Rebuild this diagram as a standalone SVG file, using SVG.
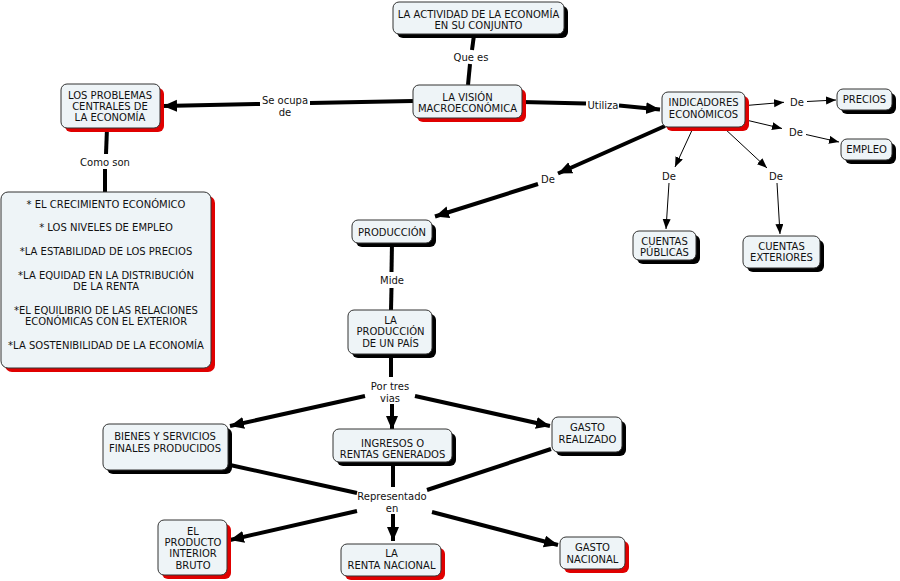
<svg xmlns="http://www.w3.org/2000/svg" width="900" height="581" viewBox="0 0 900 581">
<defs>
<marker id="ah" markerUnits="userSpaceOnUse" markerWidth="15" markerHeight="13" refX="14" refY="6" orient="auto"><path d="M0,0 L14,6 L0,12 z" fill="#000"/></marker>
<marker id="at" markerUnits="userSpaceOnUse" markerWidth="11" markerHeight="9" refX="10" refY="4" orient="auto"><path d="M0,0 L10,4 L0,8 z" fill="#000"/></marker>
</defs>
<style>
.box{fill:#eef4f7;stroke:#333;stroke-width:1}
.sb{fill:#000}
.sr{fill:#e00000}
text{font-family:"DejaVu Sans",Verdana,sans-serif;font-size:10px;fill:#111;text-anchor:middle}
.thick{stroke:#000;stroke-width:4;fill:none}
.thin{stroke:#000;stroke-width:1;fill:none}
.arr{marker-end:url(#ah)}
.arrt{marker-end:url(#at)}
</style>
<rect width="900" height="581" fill="#fff"/>
<g id="connectors">
<line class="thick" x1="474" y1="35" x2="472" y2="50"/>
<line class="thick" x1="470" y1="64" x2="468" y2="85"/>
<line class="thick" x1="413" y1="101" x2="310" y2="103"/>
<line class="thick arr" x1="260" y1="104" x2="163" y2="106"/>
<line class="thick" x1="522" y1="102" x2="586" y2="103.5"/>
<line class="thick arr" x1="619" y1="105.5" x2="660" y2="109.5"/>
<line class="thick" x1="107" y1="128" x2="106" y2="154"/>
<line class="thick" x1="105" y1="169" x2="105" y2="192"/>
<line class="thin arrt" x1="746" y1="105.5" x2="784" y2="102.3"/>
<line class="thin arrt" x1="807" y1="101.5" x2="836" y2="100"/>
<line class="thin arrt" x1="746" y1="120" x2="782" y2="128.5"/>
<line class="thin arrt" x1="806" y1="134.5" x2="839" y2="142"/>
<line class="thin arrt" x1="693" y1="128" x2="675" y2="167"/>
<line class="thin arrt" x1="669" y1="183" x2="666" y2="229"/>
<line class="thin arrt" x1="724" y1="128" x2="767" y2="168"/>
<line class="thin arrt" x1="777" y1="183" x2="780" y2="234"/>
<line class="thick arr" x1="665" y1="126" x2="558" y2="173.5"/>
<line class="thick arr" x1="538" y1="184" x2="435" y2="216.5"/>
<line class="thick" x1="392" y1="243" x2="391.5" y2="272"/>
<line class="thick" x1="391.5" y1="288" x2="391" y2="310"/>
<line class="thick" x1="391" y1="354" x2="391" y2="377"/>
<line class="thick arr" x1="365" y1="396" x2="230" y2="426"/>
<line class="thick arr" x1="392" y1="404" x2="392" y2="430"/>
<line class="thick arr" x1="415" y1="396" x2="550" y2="426"/>
<line class="thick" x1="230" y1="465" x2="357" y2="493"/>
<line class="thick" x1="393" y1="463" x2="393" y2="487"/>
<line class="thick" x1="551" y1="449" x2="427" y2="490"/>
<line class="thick arr" x1="357" y1="511" x2="230" y2="540"/>
<line class="thick arr" x1="393" y1="514" x2="393" y2="541"/>
<line class="thick arr" x1="432" y1="512" x2="558" y2="545"/>
<text x="471" y="61">Que es</text>
<text x="285" y="104">Se ocupa</text>
<text x="285" y="115.5">de</text>
<text x="603" y="108.5">Utiliza</text>
<text x="105" y="165.5">Como son</text>
<text x="797" y="105.5">De</text>
<text x="796" y="136">De</text>
<text x="669" y="180">De</text>
<text x="776" y="180">De</text>
<text x="548" y="183">De</text>
<text x="392" y="284">Mide</text>
<text x="390" y="389.5">Por tres</text>
<text x="390" y="401.5">vias</text>
<text x="392" y="499.5">Representado</text>
<text x="392" y="511.5">en</text>
</g>
<g id="n-actividad">
<rect class="sb" x="397" y="6" width="171" height="32" rx="6"/>
<rect class="box" x="393" y="2" width="171" height="32" rx="6"/>
<text x="478.5" y="17.5">LA ACTIVIDAD DE LA ECONOMÍA</text>
<text x="478.5" y="28.5">EN SU CONJUNTO</text>
</g>
<g id="n-vision">
<rect class="sr" x="417" y="89" width="109" height="33" rx="6"/>
<rect class="box" x="413" y="85" width="109" height="33" rx="6"/>
<text x="467.5" y="101">LA VISIÓN</text>
<text x="467.5" y="112">MACROECONÓMICA</text>
</g>
<g id="n-problemas">
<rect class="sr" x="65" y="88" width="99" height="44" rx="6"/>
<rect class="box" x="61" y="84" width="99" height="44" rx="6"/>
<text x="110" y="99">LOS PROBLEMAS</text>
<text x="110" y="110">CENTRALES DE</text>
<text x="110" y="121">LA ECONOMÍA</text>
</g>
<g id="n-lista">
<rect class="sr" x="5" y="196" width="210" height="176" rx="7"/>
<rect class="box" x="1" y="192" width="210" height="176" rx="7"/>
<text x="106" y="207.5">* EL CRECIMIENTO ECONÓMICO</text>
<text x="106" y="231">* LOS NIVELES DE EMPLEO</text>
<text x="106" y="254.5">*LA ESTABILIDAD DE LOS PRECIOS</text>
<text x="106" y="278.5">*LA EQUIDAD EN LA DISTRIBUCIÓN</text>
<text x="106" y="289.5">DE LA RENTA</text>
<text x="106" y="313.5">*EL EQUILIBRIO DE LAS RELACIONES</text>
<text x="106" y="324.5">ECONÓMICAS CON EL EXTERIOR</text>
<text x="106" y="348.5">*LA SOSTENIBILIDAD DE LA ECONOMÍA</text>
</g>
<g id="n-indicadores">
<rect class="sr" x="666" y="96" width="83" height="35" rx="6"/>
<rect class="box" x="662" y="92" width="83" height="35" rx="6"/>
<text x="703.5" y="105.5">INDICADORES</text>
<text x="703.5" y="117.5">ECONÓMICOS</text>
</g>
<g id="n-precios">
<rect class="sb" x="841" y="93" width="55" height="21" rx="6"/>
<rect class="box" x="837" y="89" width="55" height="21" rx="6"/>
<text x="864.5" y="103">PRECIOS</text>
</g>
<g id="n-empleo">
<rect class="sb" x="845" y="143" width="51" height="21" rx="6"/>
<rect class="box" x="841" y="139" width="51" height="21" rx="6"/>
<text x="866.5" y="153">EMPLEO</text>
</g>
<g id="n-publicas">
<rect class="sb" x="637" y="235" width="63" height="29" rx="6"/>
<rect class="box" x="633" y="231" width="63" height="29" rx="6"/>
<text x="664.5" y="244.5">CUENTAS</text>
<text x="664.5" y="256">PÚBLICAS</text>
</g>
<g id="n-exteriores">
<rect class="sb" x="747" y="240" width="77" height="32" rx="6"/>
<rect class="box" x="743" y="236" width="77" height="32" rx="6"/>
<text x="781.5" y="249.5">CUENTAS</text>
<text x="781.5" y="261">EXTERIORES</text>
</g>
<g id="n-produccion">
<rect class="sb" x="356" y="224" width="80" height="23" rx="6"/>
<rect class="box" x="352" y="220" width="80" height="23" rx="6"/>
<text x="392" y="235.5">PRODUCCIÓN</text>
</g>
<g id="n-produccion-pais">
<rect class="sb" x="352" y="314" width="84" height="44" rx="6"/>
<rect class="box" x="348" y="310" width="84" height="44" rx="6"/>
<text x="390.5" y="323.5">LA</text>
<text x="390.5" y="335">PRODUCCIÓN</text>
<text x="390.5" y="347">DE UN PAÍS</text>
</g>
<g id="n-bienes">
<rect class="sb" x="107" y="428" width="125" height="46" rx="6"/>
<rect class="box" x="103" y="424" width="125" height="46" rx="6"/>
<text x="165" y="440">BIENES Y SERVICIOS</text>
<text x="165" y="452">FINALES PRODUCIDOS</text>
</g>
<g id="n-ingresos">
<rect class="sb" x="337" y="433" width="119" height="33" rx="6"/>
<rect class="box" x="333" y="429" width="119" height="33" rx="6"/>
<text x="392.5" y="446.5">INGRESOS O</text>
<text x="392.5" y="458">RENTAS GENERADOS</text>
</g>
<g id="n-gasto-realizado">
<rect class="sb" x="556" y="421" width="70" height="35" rx="6"/>
<rect class="box" x="552" y="417" width="70" height="35" rx="6"/>
<text x="587.5" y="430.5">GASTO</text>
<text x="587.5" y="442.5">REALIZADO</text>
</g>
<g id="n-pib">
<rect class="sr" x="162" y="524" width="69" height="55" rx="6"/>
<rect class="box" x="158" y="520" width="69" height="55" rx="6"/>
<text x="193" y="534.5">EL</text>
<text x="193" y="546">PRODUCTO</text>
<text x="193" y="557">INTERIOR</text>
<text x="193" y="568.5">BRUTO</text>
</g>
<g id="n-renta">
<rect class="sr" x="345" y="548" width="100" height="32" rx="6"/>
<rect class="box" x="341" y="544" width="100" height="32" rx="6"/>
<text x="391.5" y="557">LA</text>
<text x="391.5" y="568.5">RENTA NACIONAL</text>
</g>
<g id="n-gasto-nacional">
<rect class="sr" x="564" y="541" width="65" height="32" rx="6"/>
<rect class="box" x="560" y="537" width="65" height="32" rx="6"/>
<text x="592.5" y="551">GASTO</text>
<text x="592.5" y="563">NACIONAL</text>
</g>
</svg>
